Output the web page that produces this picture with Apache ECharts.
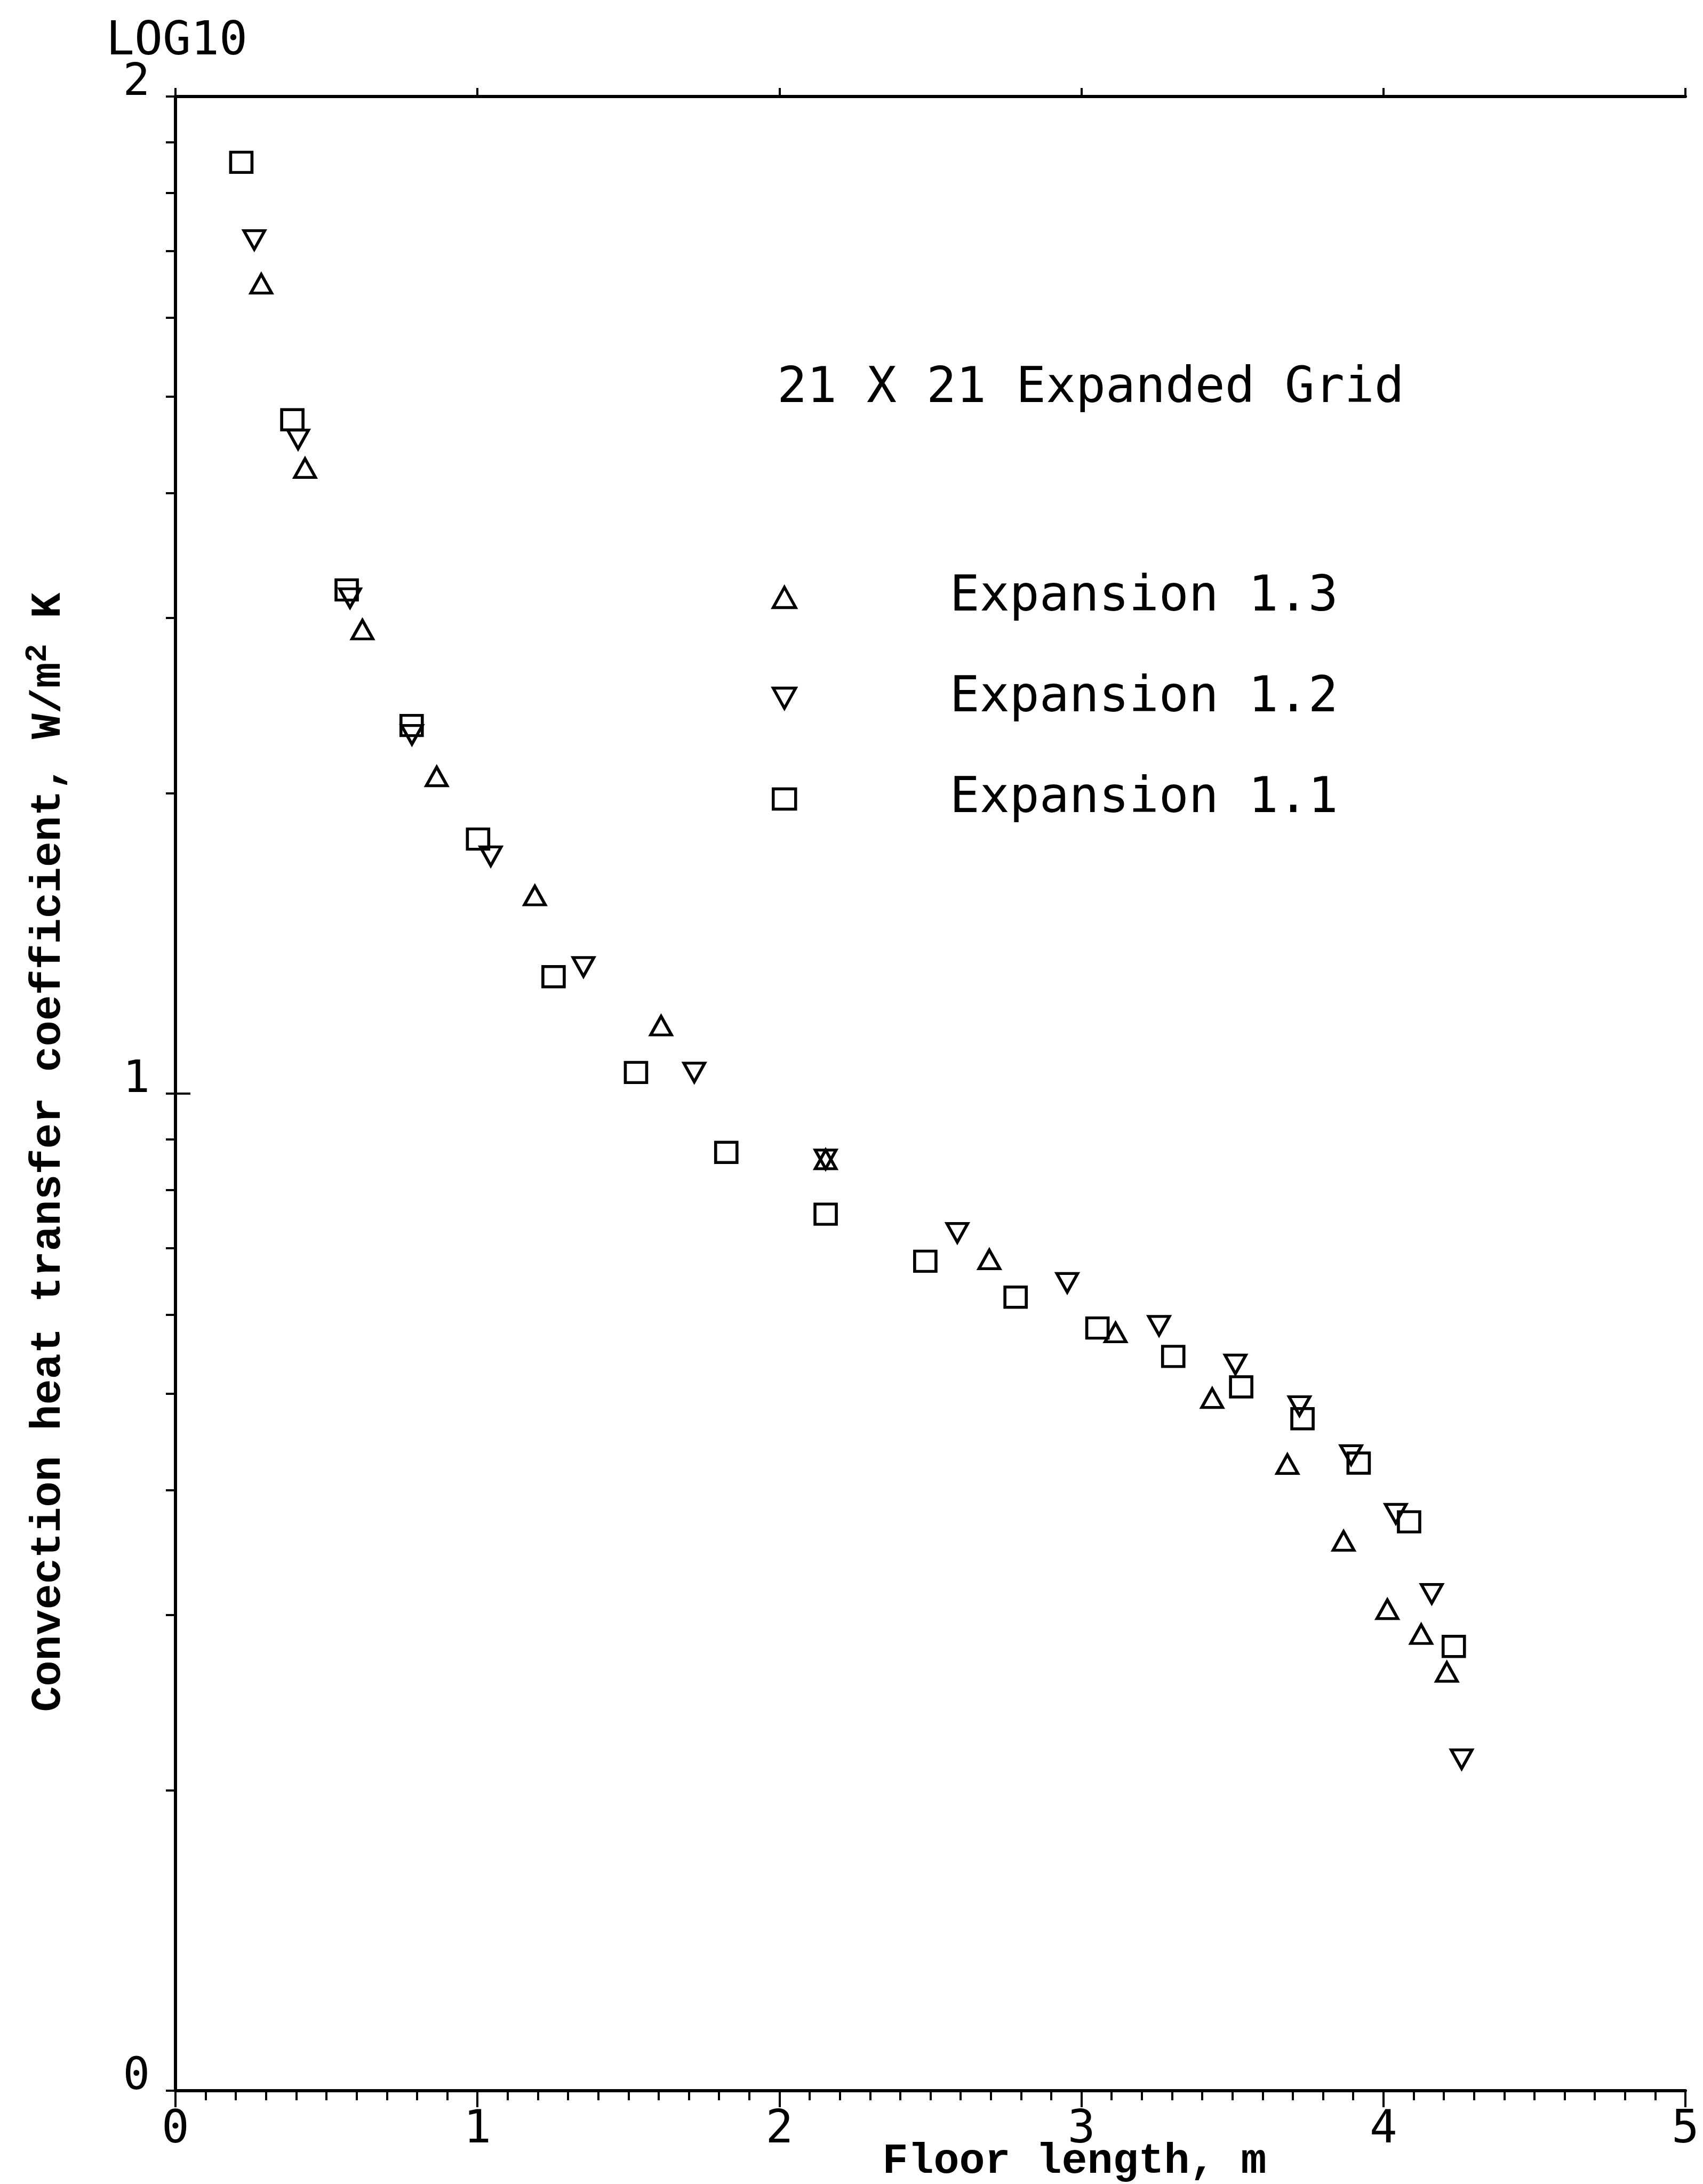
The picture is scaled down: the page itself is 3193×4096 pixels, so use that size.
<!DOCTYPE html>
<html>
<head>
<meta charset="utf-8">
<script src="https://cdn.jsdelivr.net/npm/echarts@6/dist/echarts.min.js"></script>
<style>
html,body{margin:0;padding:0;background:#fff;}
#chart{width:3193px;height:4096px;}
</style>
</head>
<body>
<div id="chart"></div>
<script>
// ---- data ----
const seriesNames = ['Expansion 1.3', 'Expansion 1.2', 'Expansion 1.1'];

// Expansion 1.3 (upward triangles)
const exp13X = [0.284, 0.429, 0.619, 0.865, 1.19, 1.608, 2.153, 2.695, 3.113, 3.433, 3.682, 3.868, 4.013, 4.125, 4.21];
const exp13Y = [64.9, 42.4, 29.2, 20.8, 15.8, 11.7, 8.59, 6.82, 5.76, 4.95, 4.25, 3.56, 3.04, 2.87, 2.63];

// Expansion 1.2 (downward triangles)
const exp12X = [0.261, 0.406, 0.578, 0.783, 1.044, 1.351, 1.718, 2.153, 2.589, 2.953, 3.257, 3.51, 3.722, 3.893, 4.041, 4.16, 4.259];
const exp12Y = [71.8, 45.3, 31.4, 22.9, 17.3, 13.4, 10.5, 8.59, 7.25, 6.46, 5.85, 5.35, 4.86, 4.34, 3.79, 3.15, 2.15];

// Expansion 1.1 (squares)
const exp11X = [0.218, 0.387, 0.567, 0.782, 1.002, 1.252, 1.525, 1.824, 2.153, 2.483, 2.782, 3.053, 3.304, 3.529, 3.732, 3.918, 4.085, 4.233];
const exp11Y = [85.9, 47.4, 32.0, 23.4, 18.0, 13.1, 10.5, 8.73, 7.57, 6.79, 6.25, 5.82, 5.45, 5.08, 4.72, 4.26, 3.72, 2.79];

// axis ticks / labels
const yLabelValues = [1, 10, 100];                 // shown as LOG10 exponents 0,1,2
const yTickValues = [1,2,3,4,5,6,7,8,9,10,20,30,40,50,60,70,80,90,100];
const yRightTickValues = [10];
const xMin = 0, xMax = 5, xInterval = 1;

// ---- chart ----
const zip = (xs, ys) => xs.map((x, i) => [x, ys[i]]);
const MONO = 'DejaVu Sans Mono';
const TYPE = 'Liberation Mono';
const BLACK = '#000';

const markerStyle = {
  color: 'rgba(0,0,0,0)',
  borderColor: BLACK,
  borderWidth: 5.5,
  opacity: 1
};

const chart = echarts.init(document.getElementById('chart'), null, {renderer: 'canvas'});

const option = {
  backgroundColor: '#fff',
  animation: false,
  title: [
    {
      text: 'LOG10',
      left: 194, top: 30,
      textStyle: {fontFamily: MONO, fontSize: 88, fontWeight: 'normal', color: BLACK}
    },
    {
      text: '21 X 21 Expanded Grid',
      left: 1452, top: 678,
      textStyle: {fontFamily: MONO, fontSize: 93, fontWeight: 'normal', color: BLACK}
    }
  ],
  legend: {
    orient: 'vertical',
    left: 1442, top: 1069,
    itemWidth: 42, itemHeight: 38,
    itemGap: 96,
    selectedMode: false,
    itemStyle: {color: 'rgba(0,0,0,0)', borderColor: BLACK, borderWidth: 5.5},
    data: [
      {name: seriesNames[0], icon: 'triangle'},
      {name: seriesNames[1], icon: 'path://M0,0L10,0L5,9Z'},
      {name: seriesNames[2], icon: 'rect'}
    ],
    textStyle: {
      fontFamily: MONO, fontSize: 93, color: BLACK,
      padding: [0, 0, 0, 284]
    }
  },
  grid: {
    left: 329, right: 33, top: 181, bottom: 175,
    containLabel: false,
    outerBoundsMode: 'none'
  },
  xAxis: [
    {
      type: 'value', position: 'bottom',
      min: xMin, max: xMax, interval: xInterval,
      axisLine: {show: true, lineStyle: {color: BLACK, width: 6}},
      axisTick: {show: true, inside: false, length: 31, lineStyle: {color: BLACK, width: 4}},
      minorTick: {show: true, splitNumber: 10, length: 18, lineStyle: {color: BLACK, width: 4}},
      splitLine: {show: false},
      minorSplitLine: {show: false},
      axisLabel: {show: true, margin: 30, padding: [2, 0, 0, 0], fontFamily: MONO, fontSize: 86, color: BLACK},
      name: 'Floor length, m',
      nameLocation: 'middle',
      nameGap: 94,
      nameMoveOverlap: false,
      nameTextStyle: {
        fontFamily: TYPE, fontWeight: 'bold', fontSize: 80, color: BLACK,
        lineHeight: 80, padding: [0, 0, 0, 540]
      }
    },
    {
      type: 'value', position: 'top',
      min: xMin, max: xMax, interval: xInterval,
      axisLine: {show: true, lineStyle: {color: BLACK, width: 6}},
      axisTick: {show: true, inside: false, length: 16, lineStyle: {color: BLACK, width: 4}},
      axisLabel: {show: false},
      splitLine: {show: false}
    }
  ],
  yAxis: [
    {
      type: 'log', logBase: 10, position: 'left',
      min: 1, max: 100,
      axisLine: {show: true, lineStyle: {color: BLACK, width: 6}},
      axisTick: {show: true, inside: false, length: 18, customValues: yTickValues, lineStyle: {color: BLACK, width: 4}},
      splitLine: {show: false},
      axisLabel: {
        show: true, customValues: yLabelValues,
        formatter: v => String(Math.round(Math.log10(v))),
        margin: 48, verticalAlign: 'bottom', lineHeight: 50,
        fontFamily: MONO, fontSize: 84, color: BLACK
      },
      name: '{t|Convection heat transfer coefficient, W/m}{s|2}{t| K}',
      nameLocation: 'middle',
      nameGap: 187,
      nameMoveOverlap: false,
      nameTextStyle: {
        fontFamily: TYPE, fontWeight: 'bold', fontSize: 80, color: BLACK,
        padding: [0, 220, 0, 0],
        rich: {
          t: {fontFamily: TYPE, fontWeight: 'bold', fontSize: 80, color: BLACK, lineHeight: 100},
          s: {fontFamily: TYPE, fontWeight: 'bold', fontSize: 58, color: BLACK, lineHeight: 58, verticalAlign: 'top'}
        }
      }
    },
    {
      type: 'log', logBase: 10, position: 'right',
      min: 1, max: 100,
      axisLine: {show: true, lineStyle: {color: BLACK, width: 6}},
      axisTick: {show: true, inside: false, length: 28, customValues: yRightTickValues, lineStyle: {color: BLACK, width: 4}},
      axisLabel: {show: false},
      splitLine: {show: false}
    }
  ],
  series: [
    {
      type: 'scatter', name: seriesNames[0],
      xAxisIndex: 0, yAxisIndex: 0,
      data: zip(exp13X, exp13Y),
      symbol: 'triangle', symbolSize: [39, 35],
      itemStyle: markerStyle,
      emphasis: {disabled: true}
    },
    {
      type: 'scatter', name: seriesNames[1],
      xAxisIndex: 0, yAxisIndex: 0,
      data: zip(exp12X, exp12Y),
      symbol: 'triangle', symbolRotate: 180, symbolSize: [39, 35],
      itemStyle: markerStyle,
      emphasis: {disabled: true}
    },
    {
      type: 'scatter', name: seriesNames[2],
      xAxisIndex: 0, yAxisIndex: 0,
      data: zip(exp11X, exp11Y),
      symbol: 'rect', symbolSize: [40, 38],
      itemStyle: markerStyle,
      emphasis: {disabled: true}
    }
  ]
};

chart.setOption(option);
</script>
</body>
</html>
